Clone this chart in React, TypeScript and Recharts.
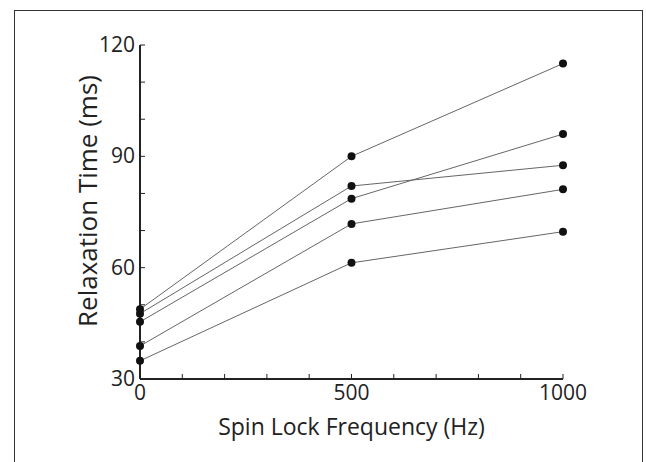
import React from 'react';
import { LineChart, Line, XAxis, YAxis } from 'recharts';

const frequencies = [0, 500, 1000];
const seriesA = [48.8, 90, 115];
const seriesB = [47.6, 82, 87.6];
const seriesC = [45.4, 78.6, 96];
const seriesD = [38.9, 71.8, 81.1];
const seriesE = [34.9, 61.3, 69.7];
const xTicks = [0, 100, 200, 300, 400, 500, 600, 700, 800, 900, 1000];
const xLabeled = [0, 500, 1000];
const yTicks = [30, 40, 50, 60, 70, 80, 90, 100, 110, 120];
const yLabeled = [30, 60, 90, 120];

const allSeries = [seriesA, seriesB, seriesC, seriesD, seriesE];

const data = frequencies.map((f, i) => {
  const row: Record<string, number> = { f };
  allSeries.forEach((s, k) => {
    row['s' + k] = s[i];
  });
  return row;
});

const FONT = '"Open Sans", sans-serif';
const INK = '#222';

const XTick = (props: any) => {
  const { x, y, payload } = props;
  const v = payload.value;
  return (
    <g>
      <line x1={x} x2={x} y1={y} y2={y - 5} stroke={INK} strokeWidth={1} />
      {xLabeled.includes(v) && (
        <text x={x} y={y + 21} textAnchor="middle" fontSize={21} fontFamily={FONT} fill={INK}>
          {v}
        </text>
      )}
    </g>
  );
};

const YTick = (props: any) => {
  const { x, y, payload } = props;
  const v = payload.value;
  return (
    <g>
      <line x1={x} x2={x + 5} y1={y} y2={y} stroke={INK} strokeWidth={1} />
      {yLabeled.includes(v) && (
        <text x={x - 5} y={y + 7} textAnchor="end" fontSize={21} fontFamily={FONT} fill={INK}>
          {v}
        </text>
      )}
    </g>
  );
};

const XTitle = (props: any) => {
  const { viewBox } = props;
  return (
    <text x={viewBox.x + viewBox.width / 2} y={435} textAnchor="middle" fontSize={23} fontFamily={FONT} fill={INK}>
      Spin Lock Frequency (Hz)
    </text>
  );
};

const YTitle = () => (
  <text
    x={97}
    y={201}
    transform="rotate(-90, 97, 201)"
    textAnchor="middle"
    fontSize={26}
    fontFamily={FONT}
    fill={INK}
  >
    Relaxation Time (ms)
  </text>
);

const App = () => {
  return (
    <div style={{ position: 'absolute', left: 0, top: 0, width: 646, height: 462, background: '#fff' }}>
      <div
        style={{
          position: 'absolute',
          left: 14,
          top: 10,
          width: 627,
          height: 460,
          borderTop: '1px solid #333',
          borderLeft: '1px solid #333',
          borderRight: '1px solid #333',
        }}
      />
      <LineChart
        width={646}
        height={462}
        data={data}
        margin={{ top: 45, right: 83, bottom: 23, left: 0 }}
        style={{ position: 'absolute', left: 0, top: 0 }}
      >
        <XAxis
          dataKey="f"
          type="number"
          domain={[0, 1000]}
          ticks={xTicks}
          interval={0}
          height={60}
          tickSize={0}
          tickMargin={0}
          tickLine={false}
          axisLine={{ stroke: INK, strokeWidth: 2 }}
          tick={<XTick />}
          label={<XTitle />}
        />
        <YAxis
          type="number"
          domain={[30, 120]}
          ticks={yTicks}
          interval={0}
          width={140}
          tickSize={0}
          tickMargin={0}
          tickLine={false}
          axisLine={{ stroke: INK, strokeWidth: 2 }}
          tick={<YTick />}
          label={<YTitle />}
        />
        {allSeries.map((_, k) => (
          <Line
            key={k}
            dataKey={'s' + k}
            type="linear"
            stroke="#666"
            strokeWidth={1}
            dot={{ r: 4, fill: '#111', stroke: '#111', strokeWidth: 0 }}
            activeDot={false}
            isAnimationActive={false}
          />
        ))}
      </LineChart>
    </div>
  );
};

export default App;
